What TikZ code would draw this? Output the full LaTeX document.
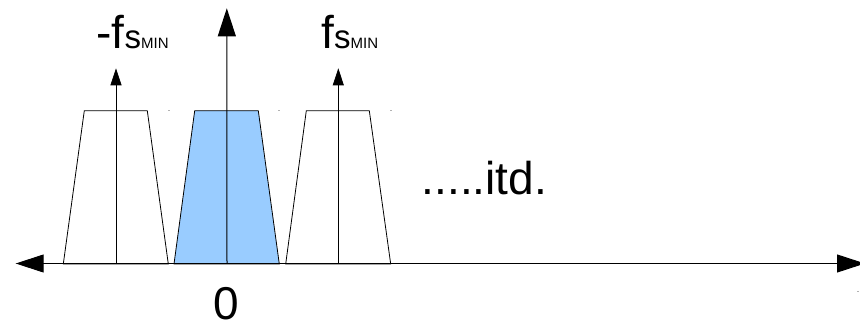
\documentclass[tikz,border=0pt]{standalone}
\usepackage{fontspec}
\setmainfont{Liberation Sans}
\usetikzlibrary{arrows.meta}
\definecolor{bandblue}{HTML}{99CCFF}
\begin{document}
\begin{tikzpicture}[x=1pt,y=1pt,
  trap/.style={draw=black,line width=0.8pt,line join=miter},
  bigarrow/.style={draw=black,line width=1pt,-{Triangle[length=28pt,width=18pt]}},
  smallarrow/.style={draw=black,line width=0.8pt,-{Triangle[length=17pt,width=11pt]}},
  bigtext/.style={inner sep=0pt,font=\fontsize{46}{48}\selectfont},
  speck/.style={fill=gray!60}
]
\useasboundingbox (0,0) rectangle (860,324);
\clip (0,0) rectangle (860,324);
% band trapezoids
\filldraw[trap,fill=white] (63.3,60) -- (84.3,213.3) -- (147.3,213.3) -- (168.3,60) -- cycle;
\filldraw[trap,fill=bandblue] (174,60) -- (194.7,213.3) -- (258.3,213.3) -- (279.3,60) -- cycle;
\filldraw[trap,fill=white] (285.7,60) -- (306.3,213.3) -- (369.3,213.3) -- (390.7,60) -- cycle;
% axis
\coordinate (O) at (227,60.5);
\coordinate (L) at (15.7,60.5);
\coordinate (R) at (865,60.5);
\coordinate (Ytip) at (226.8,315.7);
\draw[bigarrow] (O) -- (L);
\draw[bigarrow] (O) -- (R);
\draw[bigarrow] (O) -- (Ytip);
% sampling arrows
\coordinate (nb) at (116,60.5);
\coordinate (nt) at (116,255.7);
\coordinate (pb) at (338.3,60.5);
\coordinate (pt) at (338.3,255.7);
\draw[smallarrow] (nb) -- (nt);
\draw[smallarrow] (pb) -- (pt);
% specks
\fill[speck] (168.3,212.6) rectangle (169.8,214);
\fill[speck] (278.3,212.6) rectangle (279.8,214);
\fill[speck] (390.3,212.6) rectangle (391.8,214);
\fill[speck] (857.3,31.5) rectangle (859,33.2);
% labels
\node[bigtext,anchor=base west] (neglbl) at (96.3,275.7) {-f{\fontsize{33}{33}\selectfont s}{\fontsize{15}{15}\selectfont MIN}};
\node[bigtext,anchor=base west] (poslbl) at (321.2,275.7) {f{\fontsize{33}{33}\selectfont s}{\fontsize{15}{15}\selectfont MIN}};
\node[bigtext,anchor=base] (zero) at (226.5,4) {0};
\node[bigtext,anchor=base west] (etc) at (421.5,129) {.....itd.};
\end{tikzpicture}
\end{document}
